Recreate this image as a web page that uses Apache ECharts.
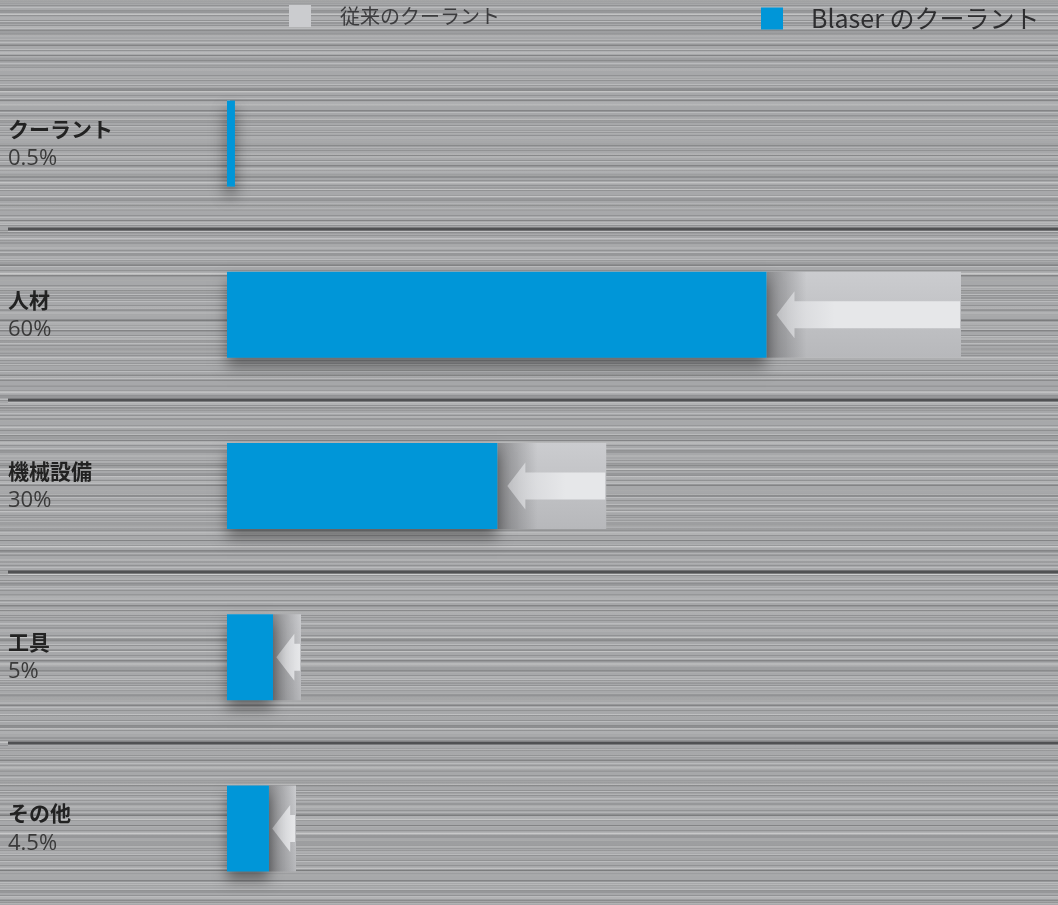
<!DOCTYPE html>
<html>
<head>
<meta charset="utf-8">
<script src="https://cdn.jsdelivr.net/npm/echarts@6/dist/echarts.min.js"></script>
<style>
html,body{margin:0;padding:0;width:1058px;height:905px;overflow:hidden;}
body{
  background:
    repeating-linear-gradient(180deg, rgba(255,255,255,0.22) 0 1px, transparent 1px 7px),
    repeating-linear-gradient(180deg, rgba(0,0,0,0.13) 0 1px, transparent 1px 5px),
    repeating-linear-gradient(180deg, rgba(255,255,255,0.12) 0 2px, transparent 2px 13px),
    repeating-linear-gradient(180deg, rgba(0,0,0,0.10) 0 2px, transparent 2px 11px),
    repeating-linear-gradient(180deg, rgba(255,255,255,0.08) 0 3px, transparent 3px 17px),
    repeating-linear-gradient(180deg, rgba(0,0,0,0.06) 0 4px, transparent 4px 29px),
    #a7a8aa;
}
#chart{width:1058px;height:930px;}
</style>
</head>
<body>
<div id="chart"></div>
<script>
const categories = ['クーラント', '人材', '機械設備', '工具', 'その他'];
const shares = ['0.5%', '60%', '30%', '5%', '4.5%'];
const conventional = [0.25, 60, 31.0, 6.05, 5.64];
const blaser = [0.65, 44.1, 22.1, 3.76, 3.43];
const legendNames = ['従来のクーラント', 'Blaser のクーラント'];

const BAR_H = 86;

function renderGray(params, api) {
  const i = api.value(0);
  const conv = api.value(1);
  const bl = api.value(2);
  const p0 = api.coord([0, i]);
  const p1 = api.coord([conv, i]);
  const pb = api.coord([bl, i]);
  const cy = p0[1];
  const top = cy - BAR_H / 2;
  const children = [{
    type: 'rect',
    shape: {x: p0[0], y: top, width: p1[0] - p0[0], height: BAR_H},
    style: {
      fill: new echarts.graphic.LinearGradient(0, 0, 0, 1, [
        {offset: 0, color: '#cbcccf'},
        {offset: 1, color: '#b7b8bb'}
      ]),
      shadowBlur: 18, shadowOffsetY: 10, shadowColor: 'rgba(0,0,0,0.45)'
    }
  }];
  const gap = p1[0] - pb[0];
  if (gap > 4) {
    const sw = Math.min(40, gap);
    children.push({
      type: 'rect',
      shape: {x: pb[0], y: top, width: sw, height: BAR_H},
      style: {
        fill: new echarts.graphic.LinearGradient(0, 0, 1, 0, [
          {offset: 0, color: 'rgba(60,60,62,0.45)'},
          {offset: 1, color: 'rgba(60,60,62,0)'}
        ])
      }
    });
    const tip = pb[0] + Math.min(10, gap * 0.12);
    const base = tip + 18;
    const end = p1[0] - 1;
    children.push({
      type: 'polygon',
      shape: {points: [
        [tip, cy], [base, cy - 23.5], [base, cy - 13.5], [end, cy - 13.5],
        [end, cy + 13.5], [base, cy + 13.5], [base, cy + 23.5]
      ]},
      style: {
        fill: new echarts.graphic.LinearGradient(tip, 0, Math.min(end, base + 40), 0, [
          {offset: 0, color: 'rgba(225,226,229,0.55)'},
          {offset: 1, color: '#e6e7e9'}
        ], true)
      }
    });
  }
  return {type: 'group', children: children};
}

const chart = echarts.init(document.getElementById('chart'), null, {renderer: 'canvas'});
const option = {
  backgroundColor: 'transparent',
  animation: false,
  legend: [{
    data: [legendNames[0]],
    left: 289, top: 5, padding: 0,
    itemWidth: 22, itemHeight: 22, icon: 'rect',
    textStyle: {fontSize: 20, color: '#3c3c3e', fontFamily: 'Noto Sans CJK JP', padding: [2, 0, 0, 24]}
  }, {
    data: [legendNames[1]],
    left: 761, top: 6, padding: 0,
    itemWidth: 22, itemHeight: 22, icon: 'rect',
    textStyle: {fontSize: 25, color: '#2e2e30', fontFamily: 'Noto Sans CJK JP', padding: [0, 0, 0, 23]}
  }],
  grid: {left: 227, width: 734, top: 58, height: 856, containLabel: false},
  xAxis: {
    type: 'value', min: 0, max: 60, show: false
  },
  yAxis: {
    type: 'category', inverse: true, data: categories,
    axisLine: {show: false}, axisTick: {show: false}, splitLine: {show: false},
    axisLabel: {
      align: 'left', margin: 219,
      formatter: function (v, idx) { return '{n|' + v + '}\n{p|' + shares[idx] + '}'; },
      rich: {
        n: {fontSize: 21, fontWeight: 'bold', color: '#222', fontFamily: 'Noto Sans CJK JP', lineHeight: 30},
        p: {fontSize: 22, color: '#3a3a3a', fontFamily: 'Open Sans', lineHeight: 30}
      }
    }
  },
  series: [{
    name: legendNames[0],
    type: 'custom',
    z: 1,
    itemStyle: {color: '#cbcccf'},
    renderItem: renderGray,
    encode: {x: 1, y: 0},
    data: categories.map((c, i) => [i, conventional[i], blaser[i]])
  }, {
    name: legendNames[1],
    type: 'bar',
    z: 2,
    barWidth: BAR_H,
    itemStyle: {color: '#0096d8', shadowBlur: 14, shadowOffsetY: 9, shadowColor: 'rgba(0,0,0,0.4)'},
    data: blaser
  }]
};
chart.setOption(option);

const centers = categories.map((c, i) => chart.convertToPixel({yAxisIndex: 0}, i));
const seps = [];
for (let i = 0; i < centers.length - 1; i++) {
  const y = Math.round((centers[i] + centers[i + 1]) / 2);
  seps.push({type: 'line', shape: {x1: 8, y1: y, x2: 1058, y2: y}, style: {stroke: '#505153', lineWidth: 3}, z: 0});
  seps.push({type: 'line', shape: {x1: 8, y1: y + 2.5, x2: 1058, y2: y + 2.5}, style: {stroke: 'rgba(255,255,255,0.25)', lineWidth: 1}, z: 0});
}
chart.setOption({graphic: seps});
</script>
</body>
</html>
